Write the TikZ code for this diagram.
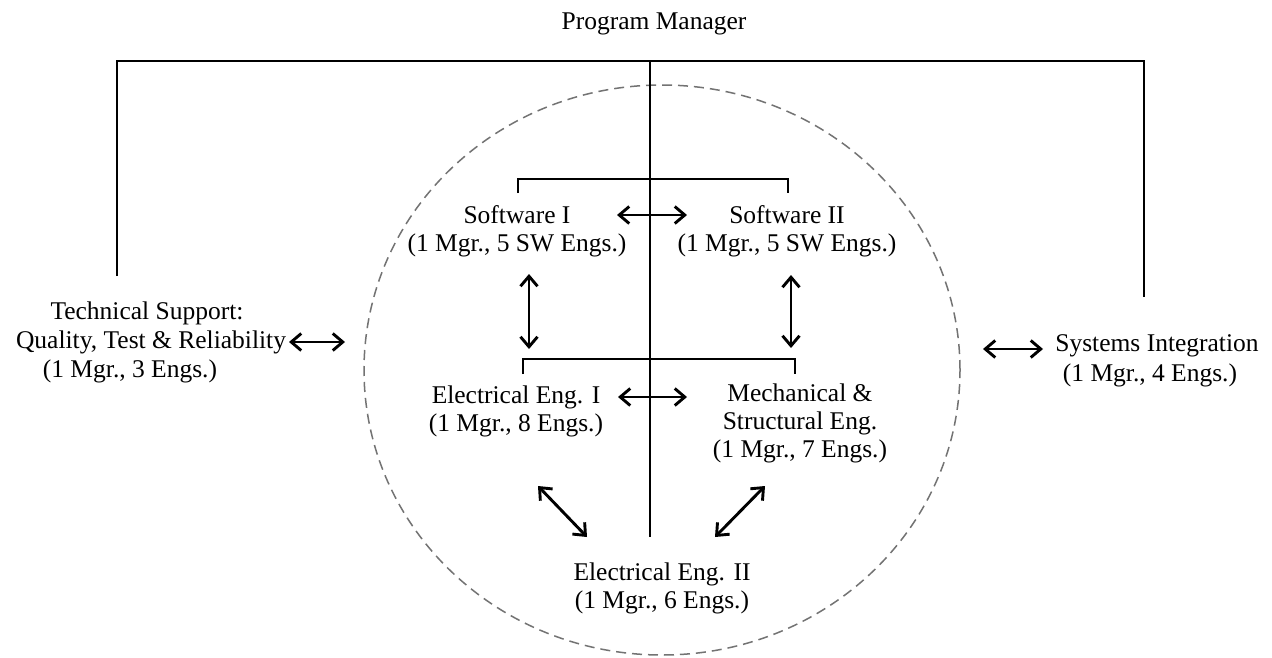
\documentclass[tikz,border=0pt]{standalone}
\usepackage{fontspec}
\setmainfont{Liberation Serif}
\usetikzlibrary{arrows.meta}
\begin{document}
\begin{tikzpicture}[x=1pt,y=-1pt,
  lbl/.style={inner sep=0pt, align=center, font=\fontsize{25.5}{28}\selectfont},
  tree/.style={line width=2.6pt},
  stem/.style={line width=2.2pt},
  brk/.style={line width=2.1pt},
  barb/.tip={Straight Barb[length=10pt,width=17pt]},
  biarrow/.style={{barb}-{barb}, line width=2.9pt},
  ring/.style={draw=black!55, line width=1.5pt, dash pattern=on 10pt off 6pt}]
\useasboundingbox (0,0) rectangle (1272,657);
\fill[white] (0,0) rectangle (1272,657);
\draw[ring] (662,370) ellipse [x radius=298pt, y radius=285pt];

% labels
\node[lbl] (pm) at (654,24) {Program Manager};
\node[lbl] (sw1) at (517,231) {Software I\\(1 Mgr., 5 SW Engs.)};
\node[lbl] (sw2) at (787,231) {Software II\\(1 Mgr., 5 SW Engs.)};
\node[lbl] (ee1) at (516,411) {Electrical Eng. I\\(1 Mgr., 8 Engs.)};
\node[lbl] (mse) at (800,423) {Mechanical \&\\Structural Eng.\\(1 Mgr., 7 Engs.)};
\node[lbl] (ee2) at (662,588) {Electrical Eng. II\\(1 Mgr., 6 Engs.)};
\node[lbl] (ts1) at (147,313) {Technical Support:};
\node[lbl] (ts2) at (151,342) {Quality, Test \& Reliability};
\node[lbl] (ts3) at (130,371) {(1 Mgr., 3 Engs.)};
\node[lbl] (si1) at (1157,346) {Systems Integration};
\node[lbl] (si2) at (1150,375) {(1 Mgr., 4 Engs.)};

% tree coordinates
\coordinate (tl) at (117,61);
\coordinate (tr) at (1144,61);
\coordinate (tsTop) at (117,276);
\coordinate (siTop) at (1144,297);
\coordinate (cTop) at (650,61);
\coordinate (cBot) at (650,537);
\draw[tree] (tsTop) -- (tl) -- (tr) -- (siTop);
\draw[stem] (cTop) -- (cBot);

% brackets
\coordinate (b1a) at (518,193); \coordinate (b1b) at (518,179);
\coordinate (b1c) at (788,179); \coordinate (b1d) at (788,193);
\draw[brk] (b1a) -- (b1b) -- (b1c) -- (b1d);
\coordinate (b2a) at (523,374); \coordinate (b2b) at (523,359);
\coordinate (b2c) at (795,359); \coordinate (b2d) at (795,374);
\draw[brk] (b2a) -- (b2b) -- (b2c) -- (b2d);

% arrows
\coordinate (a1s) at (617,215); \coordinate (a1e) at (687,215);
\coordinate (a2s) at (529,274); \coordinate (a2e) at (529,349);
\coordinate (a3s) at (791,275); \coordinate (a3e) at (791,348);
\coordinate (a4s) at (618,397); \coordinate (a4e) at (687,397);
\coordinate (a5s) at (538,486); \coordinate (a5e) at (587,537);
\coordinate (a6s) at (765,486); \coordinate (a6e) at (715,537);
\coordinate (a7s) at (289,342); \coordinate (a7e) at (345,342);
\coordinate (a8s) at (983,349); \coordinate (a8e) at (1043,349);
\draw[biarrow] (a1s) -- (a1e);
\draw[biarrow] (a2s) -- (a2e);
\draw[biarrow] (a3s) -- (a3e);
\draw[biarrow] (a4s) -- (a4e);
\draw[biarrow] (a5s) -- (a5e);
\draw[biarrow] (a6s) -- (a6e);
\draw[biarrow] (a7s) -- (a7e);
\draw[biarrow] (a8s) -- (a8e);
\end{tikzpicture}
\end{document}
